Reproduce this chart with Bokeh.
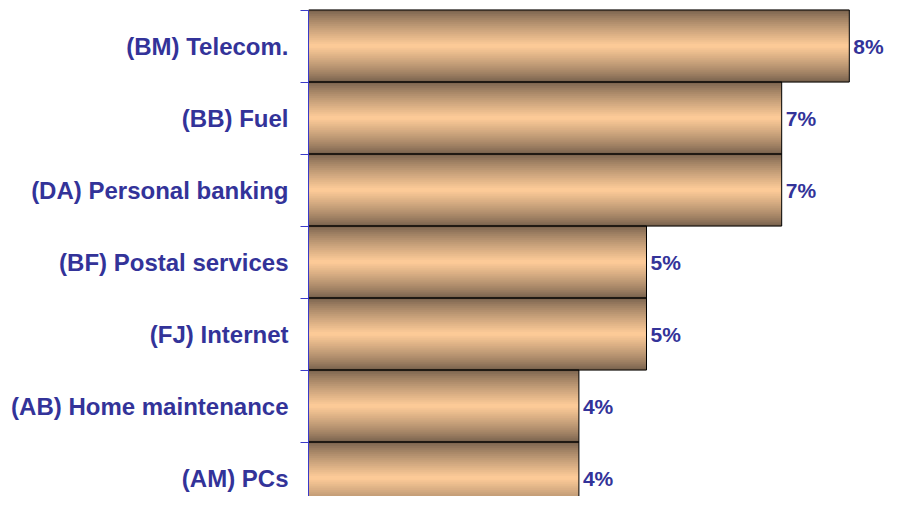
from bokeh.plotting import figure
from bokeh.models import ColumnDataSource, FixedTicker
from bokeh.core.properties import value
from bokeh.embed import file_html
from bokeh.resources import INLINE

# Data (top to bottom as in the chart)
categories = ["(BM) Telecom.", "(BB) Fuel", "(DA) Personal banking",
              "(BF) Postal services", "(FJ) Internet",
              "(AB) Home maintenance", "(AM) PCs"]
shares = [8, 7, 7, 5, 5, 4, 4]
value_labels = ["8%", "7%", "7%", "5%", "5%", "4%", "4%"]

n = len(categories)
ypos = [n - 1 - i for i in range(n)]  # top category highest

TEXT = "#333399"
AXIS = "#3a3ac8"
EDGE = (0x74, 0x5f, 0x4b)
CENTER = (0xff, 0xcc, 0x99)

W, H = 887, 496
left_px = 308
px_per_unit = 67.6
frame_w = W - left_px
band_px = 72
y_end = (n - 0.5) + 9.5 / band_px
y_start = y_end - H / band_px

p = figure(width=W, height=H, output_backend="svg", toolbar_location=None,
           x_range=(0, frame_w / px_per_unit), y_range=(y_start, y_end),
           min_border_left=left_px, min_border_right=0, min_border_top=0,
           min_border_bottom=0, outline_line_color=None)
p.xaxis.visible = False
p.xgrid.visible = False
p.ygrid.visible = False
p.background_fill_color = "white"
p.border_fill_color = "white"

# gradient stripes for each bar
N = 36
sy, sr, sc = [], [], []
for yi, v in zip(ypos, shares):
    for k in range(N):
        t = (k + 0.5) / N
        f = 1 - abs(2 * t - 1)
        f = f ** 0.8
        col = tuple(int(round(EDGE[j] + (CENTER[j] - EDGE[j]) * f)) for j in range(3))
        sy.append(yi + 0.5 - t)
        sr.append(v)
        sc.append("#%02x%02x%02x" % col)
stripes = ColumnDataSource(dict(y=sy, right=sr, color=sc))
p.hbar(y="y", right="right", left=0, height=1.15 / N, fill_color="color",
       line_color=None, source=stripes)

src = ColumnDataSource(dict(y=ypos, right=shares, label=value_labels))
p.hbar(y="y", right="right", left=0, height=1.0, fill_color=None,
       line_color="black", line_width=1, source=src)

p.text(x="right", y="y", text="label", source=src, x_offset=4,
       text_font=value("Liberation Sans"), text_font_style="bold",
       text_font_size="21px", text_color=TEXT, text_baseline="middle",
       text_align="left")

# y axis
p.yaxis.bounds = (y_start, n - 0.5)
p.yaxis.ticker = FixedTicker(ticks=ypos,
                             minor_ticks=[y + 0.5 for y in range(-1, n)])
p.yaxis.major_label_overrides = {yi: c for yi, c in zip(ypos, categories)}
p.yaxis.axis_line_color = AXIS
p.yaxis.axis_line_width = 1
p.yaxis.major_tick_line_color = None
p.yaxis.major_tick_out = 8
p.yaxis.major_tick_in = 0
p.yaxis.minor_tick_line_color = AXIS
p.yaxis.minor_tick_out = 8
p.yaxis.minor_tick_in = 0
p.yaxis.major_label_standoff = 12
p.yaxis.major_label_text_font = "Liberation Sans"
p.yaxis.major_label_text_font_style = "bold"
p.yaxis.major_label_text_font_size = "24px"
p.yaxis.major_label_text_color = TEXT

open("out.html", "w").write(file_html(p, INLINE))
